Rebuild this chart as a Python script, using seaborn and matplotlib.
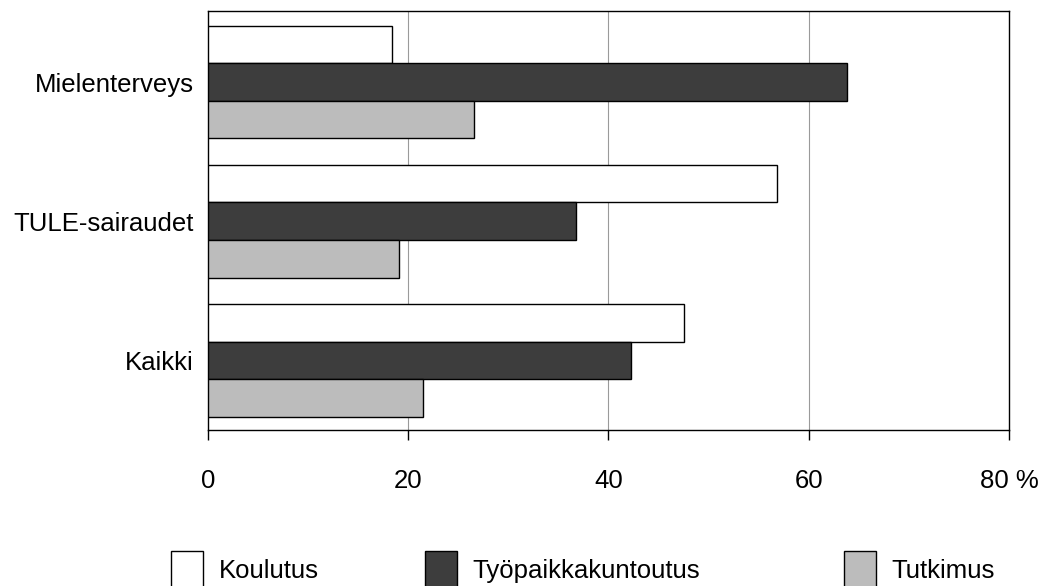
import pandas as pd
import matplotlib
matplotlib.use("Agg")
import matplotlib.pyplot as plt
from matplotlib.patches import Patch
import seaborn as sns

# values (percent)
categories = ["Mielenterveys", "TULE-sairaudet", "Kaikki"]
series = ["Koulutus", "Työpaikkakuntoutus", "Tutkimus"]
koulutus = [18.4, 56.8, 47.5]
tyopaikka = [63.8, 36.8, 42.2]
tutkimus = [26.6, 19.1, 21.5]
x_ticks = [0, 20, 40, 60, 80]
x_labels = ["0", "20", "40", "60", "80 %"]

colors = ["#ffffff", "#3d3d3d", "#bcbcbc"]


def main():
    sns.set_theme(style="white")
    plt.rcParams["font.family"] = ["Liberation Sans", "DejaVu Sans"]
    plt.rcParams["text.color"] = "black"
    plt.rcParams["xtick.color"] = "black"
    plt.rcParams["ytick.color"] = "black"

    # long format table for seaborn
    df = pd.DataFrame({
        "ryhma": categories * 3,
        "sarja": [series[0]] * 3 + [series[1]] * 3 + [series[2]] * 3,
        "osuus": koulutus + tyopaikka + tutkimus,
    })

    fig = plt.figure(figsize=(10.43, 5.86), dpi=100)
    ax = fig.add_axes([0.1994, 0.2662, 0.768, 0.7150])

    sns.barplot(data=df, x="osuus", y="ryhma", hue="sarja", order=categories,
                hue_order=series, palette=colors, orient="h", width=0.81,
                edgecolor="black", linewidth=1.0, saturation=1, ax=ax,
                legend=False, zorder=3)

    ax.set_xlim(0, 80)
    ax.set_ylim(2.5, -0.51)
    ax.set_xticks(x_ticks)
    ax.set_xticklabels(x_labels, fontsize=18.5)
    ax.set_xlabel("")
    ax.set_ylabel("")
    ax.tick_params(axis="x", direction="out", length=7.2, width=1.0,
                   color="black", labelcolor="black", pad=21, bottom=True)
    ax.tick_params(axis="y", length=0, pad=10, labelsize=18.5,
                   labelcolor="black")

    for x in x_ticks[1:-1]:
        ax.axvline(x, color="#9a9a9a", linewidth=0.8, zorder=1)

    for s in ax.spines.values():
        s.set_visible(True)
        s.set_color("black")
        s.set_linewidth(1.0)

    # legend: one entry per box, spread under the chart
    legend_x = [171, 425, 844]
    for name, col, xpix in zip(series, colors, legend_x):
        handle = Patch(facecolor=col, edgecolor="black", linewidth=1.0)
        leg = fig.legend([handle], [name], loc="center left",
                         bbox_to_anchor=(xpix / 1043, 1 - 570 / 586),
                         frameon=False, fontsize=18.5, borderpad=0,
                         borderaxespad=0, handlelength=1.23, handleheight=1.85,
                         handletextpad=0.62)
        for t in leg.get_texts():
            t.set_color("black")

    fig.savefig("out.png", dpi=100)


if __name__ == "__main__":
    main()
